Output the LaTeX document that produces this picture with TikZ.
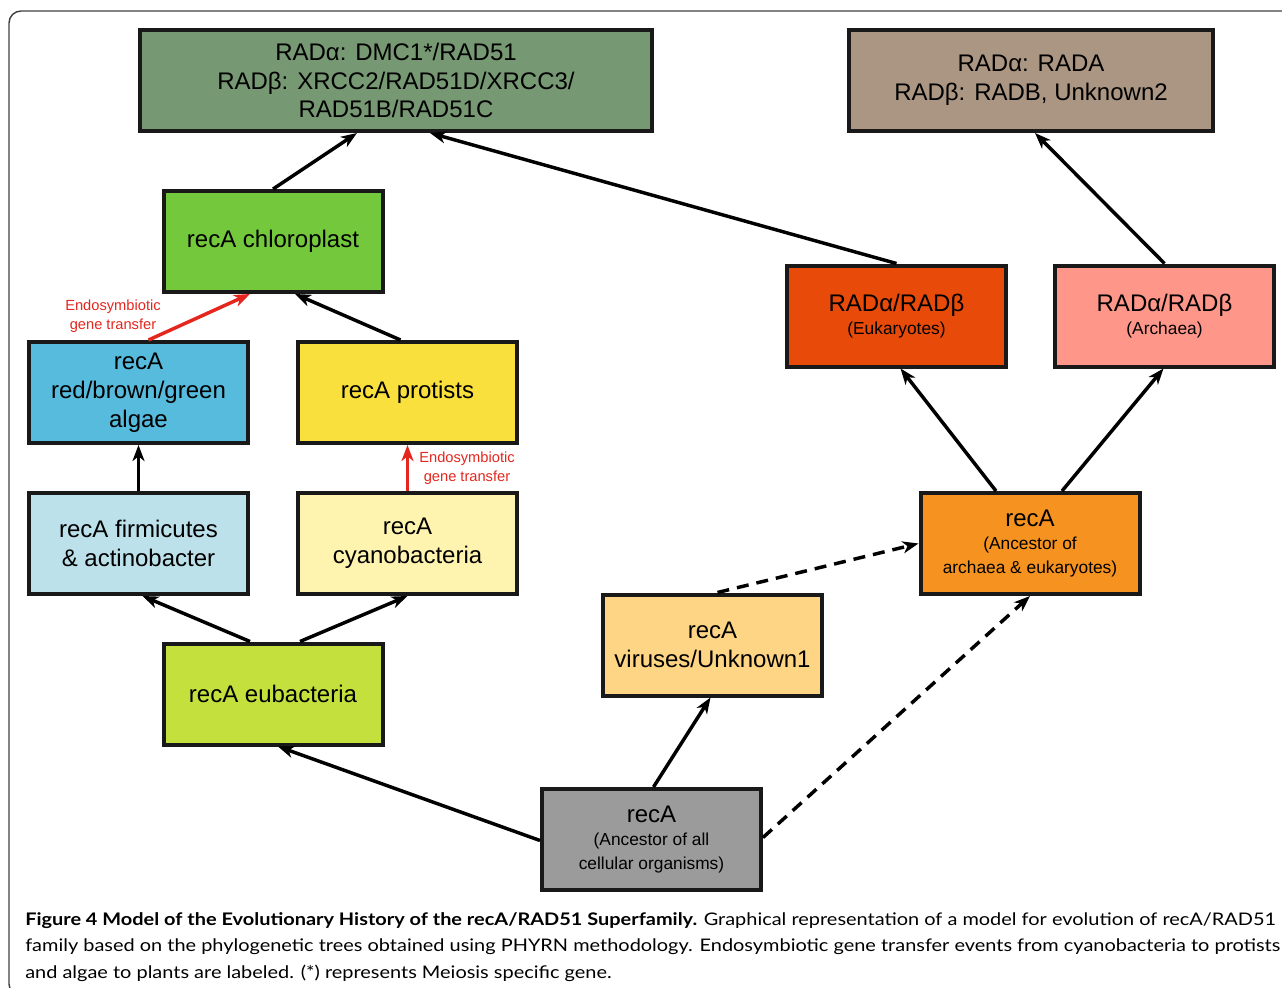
\documentclass[tikz,border=0pt]{standalone}
\usepackage{fontspec}
\setmainfont{Liberation Sans}
\newfontfamily\capfont[FakeStretch=1.15]{Lato}
\usetikzlibrary{arrows.meta,calc}
\definecolor{dmcgreen}{RGB}{118,152,114}
\definecolor{radatan}{RGB}{170,150,130}
\definecolor{chlorogreen}{RGB}{116,200,60}
\definecolor{algaeblue}{RGB}{86,187,220}
\definecolor{protyellow}{RGB}{249,224,60}
\definecolor{firmblue}{RGB}{188,225,234}
\definecolor{cyanoyellow}{RGB}{255,243,176}
\definecolor{eubgreen}{RGB}{196,224,60}
\definecolor{virorange}{RGB}{254,213,132}
\definecolor{ancgray}{RGB}{155,155,155}
\definecolor{ancorange}{RGB}{246,147,32}
\definecolor{eukred}{RGB}{232,74,10}
\definecolor{archpink}{RGB}{254,150,138}
\definecolor{egtred}{RGB}{228,38,30}
\newcommand{\bg}{\fontsize{18}{21.6}\selectfont}
\tikzset{
        taxon/.style={draw=black!90, line width=3pt, minimum width=164.25pt, minimum height=75.75pt, align=center, inner sep=2pt, font=\bg},
        smalltaxon/.style={taxon, font=\fontsize{13}{17.5}\selectfont},
        widetaxon/.style={taxon, minimum width=384pt},
        tantaxon/.style={taxon, minimum width=273pt},
        link/.style={line width=2.6pt, -{Stealth[length=12pt,width=9pt,inset=3.5pt]}},
        egt/.style={link, draw=egtred, -{Stealth[length=12pt,width=9pt,inset=3.5pt,fill=egtred]}},
        guess/.style={link, dash pattern=on 9pt off 6pt},
        egtlabel/.style={text=egtred, align=center, font=\fontsize{11}{14.25}\selectfont},
        frame/.style={draw=black!75, line width=1.1pt, rounded corners=9pt}
          }
\begin{document}
\begin{tikzpicture}[x=0.75pt, y=-0.75pt]
  \useasboundingbox (0,0) rectangle (1282,988);
  \draw[frame] (9,11) rectangle (1300,996);

  \node[widetaxon, fill=dmcgreen] (dmc) at (396,80.5) {RADα: DMC1*/RAD51\\RADβ: XRCC2/RAD51D/XRCC3/\\RAD51B/RAD51C};
  \node[tantaxon, fill=radatan] (rada) at (1031,80.5) {RADα: RADA\\RADβ: RADB, Unknown2};
  \node[taxon, fill=chlorogreen] (chloro) at (273,241.5) {recA chloroplast};
  \node[taxon, fill=algaeblue] (algae) at (138.5,392.5) {recA\\red/brown/green\\algae};
  \node[taxon, fill=protyellow] (prot) at (407.5,392.5) {recA protists};
  \node[taxon, fill=firmblue] (firm) at (138.5,543.5) {recA firmicutes\\\& actinobacter};
  \node[taxon, fill=cyanoyellow] (cyano) at (407.5,543.5) {recA\\cyanobacteria};
  \node[taxon, fill=eubgreen] (eub) at (273,694) {recA eubacteria};
  \node[taxon, fill=virorange] (vir) at (712.5,645) {recA\\viruses/Unknown1};
  \node[smalltaxon, fill=ancgray] (ancall) at (651.5,839.5) {{\bg recA}\\(Ancestor of all\\cellular organisms)};
  \node[smalltaxon, fill=ancorange] (ancae) at (1030,543.5) {{\bg recA}\\(Ancestor of\\archaea \& eukaryotes)};
  \node[smalltaxon, fill=eukred] (euk) at (896.5,316) {{\bg RADα/RADβ}\\(Eukaryotes)};
  \node[smalltaxon, fill=archpink] (arch) at (1164.5,316) {{\bg RADα/RADβ}\\(Archaea)};

  \node[egtlabel] (egt1) at (113,316) {Endosymbiotic\\gene transfer};
  \node[egtlabel] (egt2) at (467,468) {Endosymbiotic\\gene transfer};

  \draw[link] (chloro.north) -- ($(dmc.south)+(-39,0)$);
  \draw[link] (euk.north) -- ($(dmc.south)+(34,0)$);
  \draw[link] (arch.north) -- ($(rada.south)+(4,0)$);
  \draw[egt] ($(algae.north)+(10,0)$) -- ($(chloro.south)+(-23,0)$);
  \draw[link] ($(prot.north)+(-7,0)$) -- ($(chloro.south)+(22,0)$);
  \draw[link] (firm.north) -- (algae.south);
  \draw[egt] (cyano.north) -- (prot.south);
  \draw[link] ($(eub.north)+(-23,0)$) -- ($(firm.south)+(4,0)$);
  \draw[link] ($(eub.north)+(27,0)$) -- (cyano.south);
  \draw[link] ($(ancall.west)+(0,1)$) -- ($(eub.south)+(5,0)$);
  \draw[link] ($(ancall.north)+(2,0)$) -- ($(vir.south)+(-2,0)$);
  \draw[guess] ($(ancall.east)+(0,-2)$) -- (ancae.south);
  \draw[guess] ($(vir.north)+(5,0)$) -- (ancae.west);
  \draw[link] ($(ancae.north)+(-34,0)$) -- ($(euk.south)+(4,0)$);
  \draw[link] ($(ancae.north)+(32,0)$) -- ($(arch.south)+(-1,0)$);

  \node[anchor=north west, align=left, inner sep=0pt, font=\capfont\fontsize{13}{20}\selectfont] (cap) at (25,912)
    {\textbf{Figure 4 Model of the Evolutionary History of the recA/RAD51 Superfamily.} Graphical representation of a model for evolution of recA/RAD51\\
     family based on the phylogenetic trees obtained using PHYRN methodology. Endosymbiotic gene transfer events from cyanobacteria to protists\\
     and algae to plants are labeled. (*) represents Meiosis specific gene.};
\end{tikzpicture}
\end{document}
